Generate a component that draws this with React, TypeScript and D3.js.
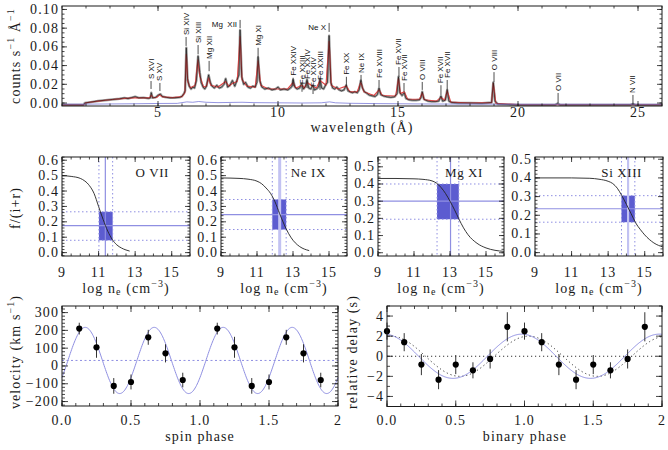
import React from "react";
import * as d3 from "d3";

const SERIF = "'Liberation Serif', 'DejaVu Serif', serif";
const SANS = "'Liberation Sans', Arial, sans-serif";
const INK = "#1a1a1a";
const BLUE = "#8f8fe2";
const BLUE_LIGHT = "#c2c2f2";
const BOX = "#5c5cd0";

// ---------------- top: spectrum ----------------
const spectrumData: [number, number][] = [
  [1.0, -0.002], [1.9, -0.002], [1.95, 0.0], [2.2, 0.001], [2.5, 0.0022], [2.8, 0.003], [3.1, 0.0038], [3.4, 0.0045],
  [3.6, 0.0055], [3.75, 0.0048], [3.9, 0.0058], [4.05, 0.0068], [4.2, 0.0055], [4.4, 0.0057], [4.6, 0.005], [4.68, 0.0055],
  [4.72, 0.011], [4.77, 0.0055], [4.9, 0.006], [5.02, 0.0085], [5.1, 0.0095], [5.18, 0.007], [5.35, 0.006], [5.5, 0.0055],
  [5.7, 0.0056], [5.9, 0.006], [6.0, 0.0072], [6.08, 0.01], [6.13, 0.013], [6.18, 0.059], [6.23, 0.026], [6.3, 0.018],
  [6.38, 0.015], [6.45, 0.017], [6.52, 0.016], [6.6, 0.024], [6.67, 0.05], [6.74, 0.033], [6.8, 0.022], [6.88, 0.017],
  [6.95, 0.015], [7.02, 0.018], [7.11, 0.03], [7.18, 0.022], [7.25, 0.018], [7.35, 0.016], [7.45, 0.019], [7.55, 0.016],
  [7.65, 0.017], [7.75, 0.02], [7.82, 0.026], [7.9, 0.017], [8.0, 0.019], [8.1, 0.024], [8.2, 0.018], [8.3, 0.025],
  [8.37, 0.03], [8.42, 0.078], [8.49, 0.028], [8.57, 0.02], [8.65, 0.022], [8.75, 0.017], [8.85, 0.016], [8.95, 0.018],
  [9.05, 0.017], [9.12, 0.022], [9.17, 0.049], [9.24, 0.024], [9.33, 0.017], [9.45, 0.015], [9.6, 0.016], [9.75, 0.014],
  [9.9, 0.015], [10.0, 0.017], [10.1, 0.014], [10.25, 0.015], [10.4, 0.014], [10.52, 0.016], [10.58, 0.018], [10.63, 0.025],
  [10.7, 0.017], [10.8, 0.015], [10.9, 0.016], [10.99, 0.021], [11.06, 0.015], [11.15, 0.018], [11.21, 0.025], [11.28, 0.016],
  [11.37, 0.015], [11.45, 0.019], [11.52, 0.014], [11.6, 0.015], [11.69, 0.017], [11.75, 0.026], [11.82, 0.016], [11.9, 0.015],
  [12.0, 0.02], [12.06, 0.022], [12.13, 0.072], [12.2, 0.022], [12.28, 0.016], [12.36, 0.015], [12.45, 0.017], [12.55, 0.014],
  [12.65, 0.013], [12.75, 0.014], [12.84, 0.019], [12.92, 0.013], [13.0, 0.012], [13.1, 0.011], [13.2, 0.012], [13.3, 0.011],
  [13.38, 0.014], [13.45, 0.024], [13.52, 0.016], [13.6, 0.012], [13.7, 0.0105], [13.8, 0.0085], [13.95, 0.0075], [14.05, 0.007],
  [14.14, 0.009], [14.21, 0.016], [14.28, 0.009], [14.4, 0.0075], [14.55, 0.0065], [14.7, 0.006], [14.85, 0.0065], [14.96, 0.01],
  [15.02, 0.028], [15.08, 0.011], [15.17, 0.008], [15.26, 0.011], [15.33, 0.005], [15.45, 0.0035], [15.6, 0.003], [15.75, 0.003],
  [15.9, 0.0035], [15.96, 0.006], [16.01, 0.012], [16.08, 0.004], [16.25, 0.002], [16.4, 0.0015], [16.55, 0.0015], [16.7, 0.002],
  [16.79, 0.0075], [16.86, 0.002], [16.97, 0.003], [17.05, 0.014], [17.12, 0.002], [17.25, 0.0005], [17.5, 0.0], [18.0, 0.0],
  [18.5, -0.0003], [18.9, 0.0005], [18.97, 0.022], [19.04, 0.002], [19.15, -0.001], [19.5, -0.0015], [20.0, -0.002], [21.55, -0.002],
  [21.65, -0.0005], [21.75, -0.002], [24.7, -0.0018], [24.79, -0.001], [24.9, -0.002], [26.0, -0.002],
];

const spectrumModel: [number, number][] = [
  [1, -0.002], [1.9, -0.002], [2.0, 0.0003], [2.5, 0.002], [3.0, 0.0035], [3.5, 0.0047], [4.0, 0.0055], [4.5, 0.0055],
  [4.65, 0.0055], [4.72, 0.0085], [4.8, 0.0056], [4.95, 0.006], [5.06, 0.0088], [5.2, 0.0065], [5.6, 0.0058], [6.0, 0.0068],
  [6.12, 0.011], [6.18, 0.052], [6.24, 0.023], [6.35, 0.016], [6.55, 0.019], [6.66, 0.046], [6.74, 0.029], [6.9, 0.017],
  [7.02, 0.018], [7.11, 0.027], [7.2, 0.019], [7.5, 0.017], [7.82, 0.023], [7.95, 0.018], [8.1, 0.021], [8.3, 0.023],
  [8.42, 0.071], [8.5, 0.025], [8.7, 0.018], [9.05, 0.017], [9.17, 0.045], [9.28, 0.019], [9.6, 0.015], [10.0, 0.015],
  [10.4, 0.015], [10.63, 0.022], [10.75, 0.016], [11.0, 0.019], [11.1, 0.016], [11.21, 0.022], [11.45, 0.018], [11.6, 0.016],
  [11.75, 0.024], [12.0, 0.019], [12.13, 0.066], [12.22, 0.019], [12.5, 0.015], [12.84, 0.018], [13.0, 0.012], [13.3, 0.012],
  [13.45, 0.022], [13.58, 0.012], [14.0, 0.008], [14.21, 0.014], [14.35, 0.008], [14.9, 0.0075], [15.02, 0.026], [15.1, 0.01],
  [15.26, 0.012], [15.4, 0.004], [15.9, 0.004], [16.01, 0.011], [16.1, 0.0035], [16.6, 0.002], [16.79, 0.006], [16.95, 0.003],
  [17.05, 0.013], [17.2, 0.001], [18.0, 0.0], [18.9, 0.0005], [18.97, 0.021], [19.08, -0.0005], [20.0, -0.0018], [26.0, -0.0018],
];

const spectrumBackground: [number, number][] = [
  [1, -0.0012], [2, -0.0012], [3, -0.001], [4, -0.0008], [5, -0.0005], [5.8, -0.0004], [6.2, 0.0012], [6.45, 0.0008],
  [6.7, 0.0016], [7.0, 0.0008], [7.5, 0.0004], [8.0, 0.0006], [8.5, 0.0008], [9.0, 0.0004], [10, 0.0002], [11, 0.0],
  [11.8, 0.0002], [12.15, 0.0012], [12.4, 0.0002], [13, -0.0003], [14, -0.0006], [15, -0.0008], [16, -0.001], [18, -0.0012],
  [20, -0.0013], [26, -0.0013],
];

// line identifications: wavelength, label, tick bottom / top (counts)
const lineNames = ["S XVI", "S XV", "Si XIV", "Si XIII", "Mg XII", "Mg  XII", "Mg XI", "Fe XXIV", "Fe XXIII", "Fe XXIV", "Fe XXIV", "Fe XXIII", "Ne X", "Fe XX", "Ne IX", "Fe XVIII", "Fe XVII", "Fe XVII", "O VIII", "Fe XVII", "Fe XVII", "O VIII", "O VII", "N VII"];
const lineWavelengths = [4.71, 5.08, 6.17, 6.67, 7.13, 8.42, 9.17, 10.63, 11.0, 11.21, 11.46, 11.75, 12.13, 12.85, 13.46, 14.21, 15.04, 15.25, 16.01, 16.79, 17.05, 19.0, 21.67, 24.79];
const lineTickLo = [0.015, 0.0128, 0.061, 0.052, 0.034, 0.08, 0.049, 0.018, 0.012, 0.016, 0.0096, 0.014, 0.076, 0.018, 0.0225, 0.017, 0.028, 0.012, 0.014, 0.0086, 0.014, 0.0225, 0.0, -0.002];
const lineTickHi = [0.0235, 0.0214, 0.0706, 0.062, 0.045, 0.0888, 0.059, 0.027, 0.018, 0.0235, 0.015, 0.0225, 0.0856, 0.028, 0.03, 0.0246, 0.0385, 0.0214, 0.0225, 0.019, 0.0246, 0.033, 0.0107, 0.0086];
const horizontalLabels = ["Mg  XII", "Ne X"];

const wavelengthTicks = [5, 10, 15, 20, 25];
const countTicks = [0, 0.02, 0.04, 0.06, 0.08, 0.1];

// ---------------- middle: density diagnostics ----------------
const ionNames = ["O VII", "Ne IX", "Mg XI", "Si XIII"];
const curveOVII: [number, number][] = [[9, 0.5], [9.5, 0.495], [10, 0.482], [10.25, 0.465], [10.5, 0.435], [10.75, 0.385], [11, 0.3], [11.25, 0.215], [11.5, 0.14], [11.75, 0.085], [12, 0.05], [12.25, 0.03], [12.5, 0.017], [12.7, 0.01]];
const curveNeIX: [number, number][] = [[9, 0.485], [10, 0.482], [10.5, 0.477], [11, 0.464], [11.25, 0.448], [11.5, 0.42], [11.75, 0.385], [12, 0.33], [12.25, 0.255], [12.5, 0.185], [12.75, 0.125], [13, 0.08], [13.25, 0.05], [13.5, 0.03], [13.75, 0.018], [13.9, 0.013]];
const curveMgXI: [number, number][] = [[9, 0.432], [10, 0.432], [11, 0.43], [11.5, 0.427], [12, 0.418], [12.25, 0.405], [12.5, 0.38], [12.75, 0.345], [13, 0.3], [13.25, 0.25], [13.5, 0.195], [13.75, 0.145], [14, 0.105], [14.5, 0.055], [15, 0.028], [15.5, 0.014], [16, 0.008]];
const curveSiXIII: [number, number][] = [[9, 0.4], [11, 0.4], [12, 0.398], [12.5, 0.393], [13, 0.382], [13.25, 0.37], [13.5, 0.345], [13.75, 0.305], [14, 0.258], [14.25, 0.21], [14.5, 0.16], [14.75, 0.125], [15, 0.095], [15.5, 0.052], [16, 0.03]];
const densityCurves = [curveOVII, curveNeIX, curveMgXI, curveSiXIII];
const densityBest = [11.37, 12.26, 13.03, 14.09];
const densityLo = [11.02, 11.85, 12.28, 13.73];
const densityHi = [11.77, 12.62, 13.49, 14.46];
const ratioBest = [0.175, 0.247, 0.3, 0.235];
const ratioLo = [0.08, 0.15, 0.195, 0.163];
const ratioHi = [0.265, 0.345, 0.4, 0.305];
const densityTicks = [9, 11, 13, 15];
const ratioTicksA = [0, 0.1, 0.2, 0.3, 0.4, 0.5, 0.6];
const ratioTicksB = [0, 0.1, 0.2, 0.3, 0.4, 0.5];

// ---------------- bottom left: spin ----------------
const spinPhase = [0.125, 0.25, 0.375, 0.5, 0.625, 0.75, 0.875, 1.125, 1.25, 1.375, 1.5, 1.625, 1.75, 1.875];
const spinVelocity = [210, 105, -112, -90, 161, 71, -79, 210, 105, -112, -90, 161, 71, -79];
const spinVelocityErr = [33, 59, 44, 42, 42, 51, 41, 33, 59, 44, 42, 42, 51, 41];
const spinFitMean = 31;
const spinFitAmp = 186;
const spinFitPeriod = 0.5;
const spinFitPeak = 0.168;
const velocityTicks = [-200, -100, 0, 100, 200, 300];
const phaseTicks = [0, 0.5, 1, 1.5, 2];
const phaseTickLabels = ["0.0", "0.5", "1.0", "1.5", "2"];

// ---------------- bottom right: binary ----------------
const binaryPhase = [0, 0.125, 0.25, 0.375, 0.5, 0.625, 0.75, 0.875, 1.0, 1.125, 1.25, 1.375, 1.5, 1.625, 1.75, 1.875];
const binaryDelay = [2.5, 1.4, -0.83, -2.33, -0.83, -1.4, -0.27, 2.93, 2.5, 1.4, -0.83, -2.33, -0.83, -1.4, -0.27, 2.93];
const binaryDelayErr = [0.85, 0.9, 1.05, 0.95, 0.95, 0.8, 0.95, 1.45, 0.85, 0.9, 1.05, 0.95, 0.95, 0.8, 0.95, 1.45];
const binaryFitAmp = 2.2;
const binaryFitPeak = 0.98;
const binaryAltAmp = 2.0;
const binaryAltPeak = 1.03;
const delayTicks = [-4, -2, 0, 2, 4];

// ---------------- helpers ----------------
function stepValues(lo: number, hi: number, step: number) {
  const a = Math.ceil(lo / step - 1e-9);
  const b = Math.floor(hi / step + 1e-9);
  return d3.range(a, b + 1).map((i) => +(i * step).toFixed(10));
}

function tickPath(
  xs: d3.ScaleLinear<number, number>,
  ys: d3.ScaleLinear<number, number>,
  xMajor: number[], xMinorStep: number,
  yMajor: number[], yMinorStep: number,
  ML: number, NL: number
) {
  const [xa, xb] = xs.range();
  const [ya, yb] = ys.range();
  const [dx0, dx1] = xs.domain();
  const [dy0, dy1] = ys.domain();
  let d = "";
  const addX = (v: number, L: number) => {
    const x = xs(v);
    d += `M${x},${ya}V${ya - L}M${x},${yb}V${yb + L}`;
  };
  const addY = (v: number, L: number) => {
    const y = ys(v);
    d += `M${xa},${y}H${xa + L}M${xb},${y}H${xb - L}`;
  };
  stepValues(dx0, dx1, xMinorStep).forEach((v) => addX(v, NL));
  xMajor.forEach((v) => addX(v, ML));
  stepValues(dy0, dy1, yMinorStep).forEach((v) => addY(v, NL));
  yMajor.forEach((v) => addY(v, ML));
  return d;
}

function Frame({ xs, ys }: { xs: d3.ScaleLinear<number, number>; ys: d3.ScaleLinear<number, number> }) {
  const [xa, xb] = xs.range();
  const [ya, yb] = ys.range();
  return <rect x={xa} y={yb} width={xb - xa} height={ya - yb} fill="none" stroke={INK} strokeWidth={1} />;
}

const minus = (s: string) => s.replace("-", "\u2212");

export default function App() {
  // ---------- top ----------
  const xTop = d3.scaleLinear().domain([1, 26]).range([62, 662]);
  const yTop = d3.scaleLinear().domain([-0.0032, 0.1037]).range([106, 6]);
  const specLine = d3.line<[number, number]>().x((d) => xTop(d[0])).y((d) => yTop(d[1]));

  // ---------- middle ----------
  const midX = [[62, 190], [221, 347], [378, 504], [535, 663]];
  const midYDom = [[-0.022, 0.621], [-0.022, 0.621], [-0.019, 0.557], [-0.018, 0.512]];
  const vWidth = [1.2, 3, 1.2, 2.2];

  // ---------- bottom ----------
  const xSpin = d3.scaleLinear().domain([0, 2]).range([62, 338]);
  const ySpin = d3.scaleLinear().domain([-225, 337]).range([406, 306]);
  const xBin = d3.scaleLinear().domain([0, 2]).range([387, 662]);
  const yBin = d3.scaleLinear().domain([-5, 5]).range([406.5, 306]);

  const fine = d3.range(0, 2.0001, 0.005);
  const spinCurve = d3.line<number>()
    .x((p) => xSpin(p))
    .y((p) => ySpin(spinFitMean + spinFitAmp * Math.cos((2 * Math.PI * (p - spinFitPeak)) / spinFitPeriod)));
  const binCurve = d3.line<number>()
    .x((p) => xBin(p))
    .y((p) => yBin(binaryFitAmp * Math.cos(2 * Math.PI * (p - binaryFitPeak))));
  const binAltCurve = d3.line<number>()
    .x((p) => xBin(p))
    .y((p) => yBin(binaryAltAmp * Math.cos(2 * Math.PI * (p - binaryAltPeak))));

  const tickFont = { fontFamily: SERIF, fontSize: 14, fill: INK, letterSpacing: 1.1 };

  return (
    <svg width={668} height={450} style={{ position: "absolute", left: 0, top: 0 }} xmlns="http://www.w3.org/2000/svg">
      <rect width={668} height={450} fill="#fff" />

      {/* ================= TOP SPECTRUM ================= */}
      <g>
        <path d={specLine(spectrumData) || ""} fill="none" stroke="#9a9a9a" strokeWidth={2.4} strokeLinejoin="round" />
        <path d={specLine(spectrumModel) || ""} fill="none" stroke="#e04848" strokeWidth={1.2} strokeLinejoin="round" />
        <path d={specLine(spectrumData) || ""} fill="none" stroke="#111" strokeWidth={0.6} strokeLinejoin="round" />
        <path d={specLine(spectrumBackground) || ""} fill="none" stroke="#7a7ad8" strokeWidth={0.8} />
        {lineNames.map((name, i) => {
          const x = xTop(lineWavelengths[i]);
          const y0 = yTop(lineTickLo[i]);
          const y1 = yTop(lineTickHi[i]);
          const horiz = horizontalLabels.includes(name);
          return (
            <g key={i}>
              <line x1={x} x2={x} y1={y0} y2={y1} stroke="#222" strokeWidth={0.8} />
              {horiz ? (
                <text x={x - 3} y={(y0 + y1) / 2} textAnchor="end" dominantBaseline="central" fontFamily={SANS} fontSize={8} fill="#111" style={{ whiteSpace: "pre" }}>
                  {name}
                </text>
              ) : (
                <text transform={`translate(${x},${y1 - 2}) rotate(-90)`} dominantBaseline="central" fontFamily={SANS} fontSize={8} fill="#111">
                  {name}
                </text>
              )}
            </g>
          );
        })}
        <path d={tickPath(xTop, yTop, wavelengthTicks, 1, countTicks, 0.005, 5, 2.5)} stroke={INK} strokeWidth={0.8} fill="none" />
        <Frame xs={xTop} ys={yTop} />
        {countTicks.map((v) => (
          <text key={v} x={59} y={yTop(v)} textAnchor="end" dominantBaseline="central" {...tickFont}>
            {d3.format(".2f")(v)}
          </text>
        ))}
        {wavelengthTicks.map((v) => (
          <text key={v} x={xTop(v)} y={112} textAnchor="middle" dominantBaseline="central" {...tickFont}>
            {v}
          </text>
        ))}
        <text x={362} y={127} textAnchor="middle" dominantBaseline="central" {...tickFont}>
          wavelength (Å)
        </text>
        <text transform="translate(15,56) rotate(-90)" textAnchor="middle" dominantBaseline="central" {...tickFont}>
          counts s<tspan dy={-5} fontSize={10}>−1</tspan>
          <tspan dy={5}> Å</tspan>
          <tspan dy={-5} fontSize={10}>−1</tspan>
        </text>
      </g>

      {/* ================= MIDDLE DENSITY PANELS ================= */}
      {ionNames.map((ion, i) => {
        const xs = d3.scaleLinear().domain([9, 16]).range(midX[i]);
        const ys = d3.scaleLinear().domain(midYDom[i]).range([256, 157]);
        const [xa, xb] = midX[i];
        const yt = i < 2 ? ratioTicksA : ratioTicksB;
        const curve = d3.line<[number, number]>().x((d) => xs(d[0])).y((d) => ys(d[1])).curve(d3.curveMonotoneX);
        const bx0 = xs(densityLo[i]), bx1 = xs(densityHi[i]);
        const by0 = ys(ratioHi[i]), by1 = ys(ratioLo[i]);
        return (
          <g key={ion}>
            <rect x={bx0} y={by0} width={bx1 - bx0} height={by1 - by0} fill={BOX} />
            {[densityLo[i], densityHi[i]].map((v, k) => (
              <line key={"v" + k} x1={xs(v)} x2={xs(v)} y1={157} y2={256} stroke={BLUE} strokeWidth={1} strokeDasharray="1.5,2.5" />
            ))}
            {[ratioLo[i], ratioHi[i]].map((v, k) => (
              <line key={"h" + k} x1={xa} x2={xb} y1={ys(v)} y2={ys(v)} stroke={BLUE} strokeWidth={1} strokeDasharray="1.5,2.5" />
            ))}
            <line x1={xa} x2={xb} y1={ys(ratioBest[i])} y2={ys(ratioBest[i])} stroke={BLUE} strokeWidth={1.2} />
            <line x1={xs(densityBest[i])} x2={xs(densityBest[i])} y1={157} y2={256} stroke={vWidth[i] > 2 ? BLUE_LIGHT : BLUE} strokeWidth={vWidth[i]} />
            <path d={curve(densityCurves[i]) || ""} fill="none" stroke="#222" strokeWidth={0.9} />
            <text x={xb - 21} y={172} textAnchor="end" dominantBaseline="central" fontFamily={SERIF} fontSize={13} fill={INK} letterSpacing={0.6}>
              {ion}
            </text>
            <path d={tickPath(xs, ys, densityTicks, 0.5, yt, 0.02, 5, 2.5)} stroke={INK} strokeWidth={0.8} fill="none" />
            <Frame xs={xs} ys={ys} />
            {yt.map((v) => (
              <text key={v} x={xa - 3} y={ys(v)} textAnchor="end" dominantBaseline="central" {...tickFont}>
                {d3.format(".1f")(v)}
              </text>
            ))}
            {densityTicks.map((v) => (
              <text key={v} x={xs(v)} y={272} textAnchor="middle" dominantBaseline="central" {...tickFont}>
                {v}
              </text>
            ))}
            <text x={(xa + xb) / 2} y={288} textAnchor="middle" dominantBaseline="central" {...tickFont}>
              log n<tspan dy={3} fontSize={10}>e</tspan>
              <tspan dy={-3}> (cm</tspan>
              <tspan dy={-5} fontSize={10}>−3</tspan>
              <tspan dy={5}>)</tspan>
            </text>
          </g>
        );
      })}
      <text transform="translate(15,208) rotate(-90)" textAnchor="middle" dominantBaseline="central" {...tickFont}>
        f/(i+r)
      </text>

      {/* ================= BOTTOM LEFT: SPIN ================= */}
      <g>
        <line x1={62} x2={338} y1={ySpin(spinFitMean)} y2={ySpin(spinFitMean)} stroke={BLUE} strokeWidth={1} strokeDasharray="2,2.5" />
        <path d={spinCurve(fine) || ""} fill="none" stroke={BLUE} strokeWidth={1} />
        {spinPhase.map((p, i) => (
          <g key={i}>
            <line x1={xSpin(p)} x2={xSpin(p)} y1={ySpin(spinVelocity[i] - spinVelocityErr[i])} y2={ySpin(spinVelocity[i] + spinVelocityErr[i])} stroke="#333" strokeWidth={1} />
            <circle cx={xSpin(p)} cy={ySpin(spinVelocity[i])} r={3.1} fill="#000" />
          </g>
        ))}
        <path d={tickPath(xSpin, ySpin, phaseTicks, 0.1, velocityTicks, 20, 6, 3)} stroke={INK} strokeWidth={0.8} fill="none" />
        <Frame xs={xSpin} ys={ySpin} />
        {velocityTicks.map((v) => (
          <text key={v} x={59} y={ySpin(v)} textAnchor="end" dominantBaseline="central" {...tickFont}>
            {minus(String(v))}
          </text>
        ))}
        {phaseTicks.map((v, i) => (
          <text key={v} x={xSpin(v)} y={420} textAnchor="middle" dominantBaseline="central" {...tickFont}>
            {phaseTickLabels[i]}
          </text>
        ))}
        <text x={200} y={436} textAnchor="middle" dominantBaseline="central" {...tickFont}>
          spin phase
        </text>
        <text transform="translate(15,352) rotate(-90)" textAnchor="middle" dominantBaseline="central" {...tickFont}>
          velocity (km s<tspan dy={-5} fontSize={10}>−1</tspan>
          <tspan dy={5}>)</tspan>
        </text>
      </g>

      {/* ================= BOTTOM RIGHT: BINARY ================= */}
      <g>
        <line x1={387} x2={662} y1={yBin(0)} y2={yBin(0)} stroke="#333" strokeWidth={1} strokeDasharray="1.2,2.8" />
        <path d={binAltCurve(fine) || ""} fill="none" stroke="#333" strokeWidth={1} strokeDasharray="1.2,2.8" />
        <path d={binCurve(fine) || ""} fill="none" stroke={BLUE} strokeWidth={1} />
        {binaryPhase.map((p, i) => (
          <g key={i}>
            <line x1={xBin(p)} x2={xBin(p)} y1={yBin(binaryDelay[i] - binaryDelayErr[i])} y2={yBin(binaryDelay[i] + binaryDelayErr[i])} stroke="#333" strokeWidth={1} />
            <circle cx={xBin(p)} cy={yBin(binaryDelay[i])} r={3.1} fill="#000" />
          </g>
        ))}
        <path d={tickPath(xBin, yBin, phaseTicks, 0.1, delayTicks, 1, 6, 3)} stroke={INK} strokeWidth={0.8} fill="none" />
        <Frame xs={xBin} ys={yBin} />
        {delayTicks.map((v) => (
          <text key={v} x={384} y={yBin(v)} textAnchor="end" dominantBaseline="central" {...tickFont}>
            {minus(String(v))}
          </text>
        ))}
        {phaseTicks.map((v, i) => (
          <text key={v} x={xBin(v)} y={420} textAnchor="middle" dominantBaseline="central" {...tickFont}>
            {phaseTickLabels[i]}
          </text>
        ))}
        <text x={525} y={436} textAnchor="middle" dominantBaseline="central" {...tickFont}>
          binary phase
        </text>
        <text transform="translate(352,352) rotate(-90)" textAnchor="middle" dominantBaseline="central" {...tickFont}>
          relative delay (s)
        </text>
      </g>
    </svg>
  );
}
